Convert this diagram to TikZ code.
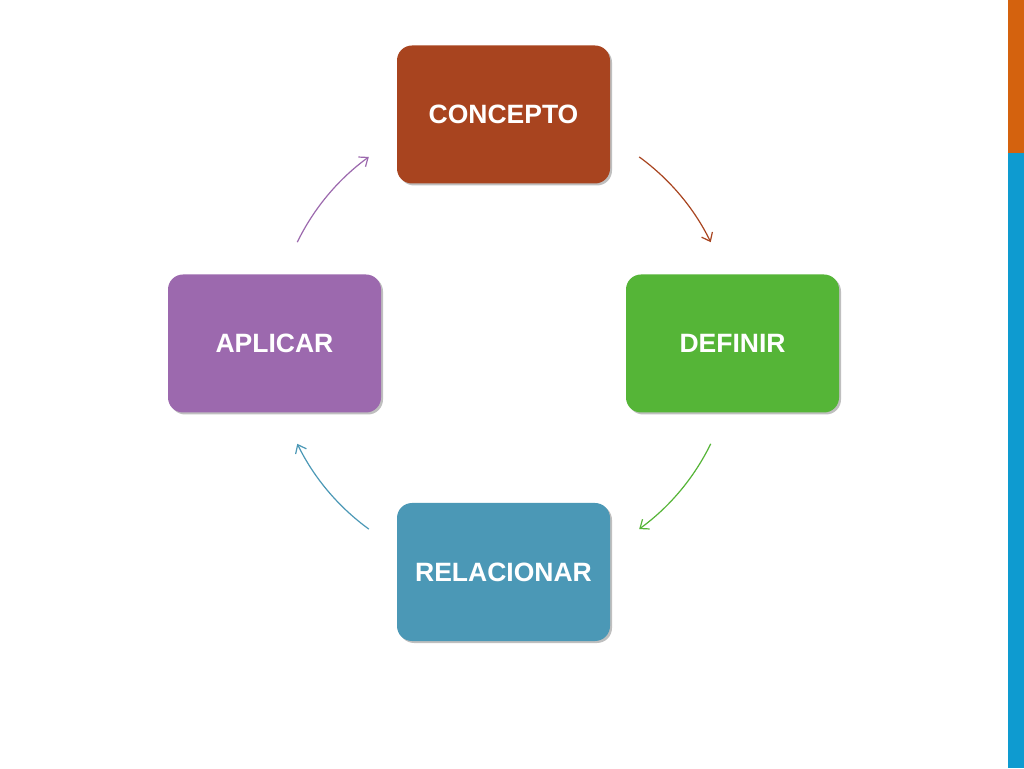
\documentclass[tikz,border=0pt]{standalone}
\usepackage{fontspec}
\setmainfont{Liberation Sans}
\usetikzlibrary{arrows.meta,shadows,calc}
\definecolor{cRed}{HTML}{A8441F}
\definecolor{cGreen}{HTML}{55B537}
\definecolor{cBlue}{HTML}{4B98B6}
\definecolor{cPurple}{HTML}{9C69AE}
\definecolor{barOrange}{HTML}{D4620E}
\definecolor{barBlue}{HTML}{0E9BD0}
\tikzset{
  stepbox/.style={rounded corners=15pt, minimum width=213pt, minimum height=138pt,
    inner sep=0pt, text=white, font=\bfseries\fontsize{26.5}{30}\selectfont,
    drop shadow={shadow xshift=2pt, shadow yshift=-2pt, opacity=0.25, fill=black}},
  cyc/.style={line width=1.2pt, -{Straight Barb[length=7.5pt,width=12pt,line width=1.2pt]}},
}
\begin{document}
\begin{tikzpicture}[x=1pt,y=1pt]
\useasboundingbox (0,0) rectangle (1024,768);
\fill[white] (0,0) rectangle (1024,768);
% right bar
\fill[barOrange] (1008,768) rectangle (1024,615);
\fill[barBlue] (1008,615) rectangle (1024,0);
% boxes
\node[stepbox, fill=cRed] (concepto) at (503.5,653.5) {CONCEPTO};
\node[stepbox, fill=cGreen] (definir) at (732.5,424.5) {DEFINIR};
\node[stepbox, fill=cBlue] (relacionar) at (503.5,196) {RELACIONAR};
\node[stepbox, fill=cPurple] (aplicar) at (274.5,424.5) {APLICAR};
% circle centre and arc ends
\coordinate (ctr) at (504,425);
\coordinate (r1) at ($(ctr)+(54:230)$);
\coordinate (g1) at ($(ctr)+(-26:230)$);
\coordinate (b1) at ($(ctr)+(-126:230)$);
\coordinate (p1) at ($(ctr)+(154:230)$);
\draw[cyc, cRed] (r1) arc[start angle=54, end angle=26, radius=230];
\draw[cyc, cGreen] (g1) arc[start angle=-26, end angle=-54, radius=230];
\draw[cyc, cBlue] (b1) arc[start angle=-126, end angle=-154, radius=230];
\draw[cyc, cPurple] (p1) arc[start angle=154, end angle=126, radius=230];
\end{tikzpicture}
\end{document}
